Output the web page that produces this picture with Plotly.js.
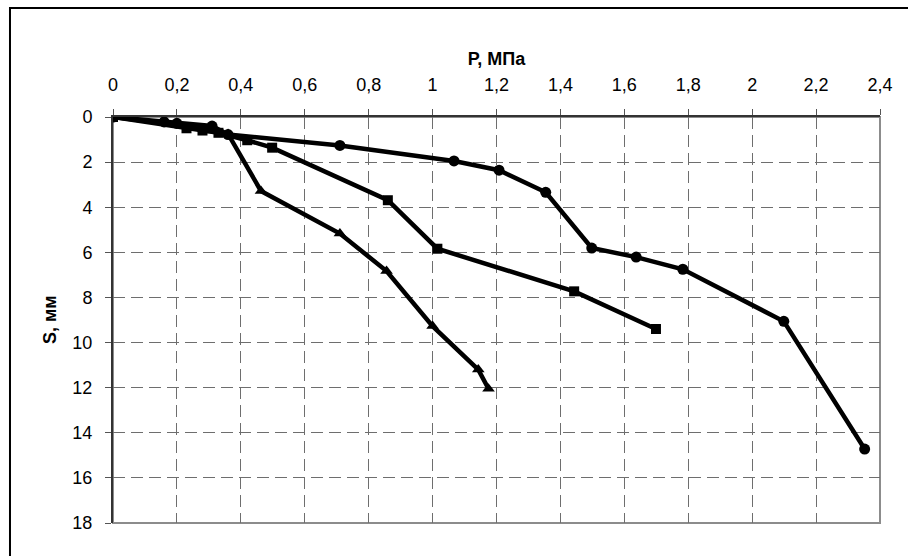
<!DOCTYPE html>
<html>
<head>
<meta charset="utf-8">
<script src="https://cdn.plot.ly/plotly-3.0.1.min.js"></script>
<style>html,body{margin:0;padding:0;background:#fff;}#chart{width:908px;height:556px;}</style>
</head>
<body>
<div id="chart"></div>
<script>
// Series 1 (circles)
const circleP = [0, 0.16, 0.20, 0.31, 0.36, 0.71, 1.067, 1.208, 1.354, 1.498, 1.637, 1.783, 2.099, 2.352];
const circleS = [0, 0.22, 0.28, 0.40, 0.78, 1.26, 1.95, 2.36, 3.34, 5.81, 6.21, 6.75, 9.06, 14.72];
// Series 2 (squares)
const squareP = [0, 0.23, 0.28, 0.33, 0.42, 0.498, 0.86, 1.015, 1.443, 1.699];
const squareS = [0, 0.50, 0.60, 0.70, 1.03, 1.36, 3.69, 5.84, 7.73, 9.40];
// Series 3 (triangles)
const triP = [0, 0.20, 0.30, 0.36, 0.463, 0.71, 0.856, 1.0, 1.143, 1.175];
const triS = [0, 0.35, 0.60, 0.75, 3.28, 5.17, 6.83, 9.27, 11.2, 12.05];

const xTitle = 'P, МПа';
const yTitle = 'S, мм';

const lineStyle = {color: '#000', width: 4.5};
const traces = [
  {x: circleP, y: circleS, mode: 'lines+markers', line: lineStyle,
   marker: {symbol: 'circle', size: 11, color: '#000'}},
  {x: squareP, y: squareS, mode: 'lines+markers', line: lineStyle,
   marker: {symbol: 'square', size: 10, color: '#000'}},
  {x: triP, y: triS, mode: 'lines+markers', line: lineStyle,
   marker: {symbol: 'triangle-up', size: 11, color: '#000'}}
];

const layout = {
  width: 908, height: 556,
  margin: {l: 113, r: 28, t: 117, b: 33},
  paper_bgcolor: '#fff', plot_bgcolor: '#fff',
  showlegend: false,
  separators: ', ',
  font: {family: 'Liberation Sans, Arial, sans-serif', color: '#000', size: 18},
  title: {text: '<b>' + xTitle + '</b>', x: 0.5, xref: 'paper', xanchor: 'center',
          y: 1.175, yref: 'paper', yanchor: 'middle',
          font: {size: 18, family: 'Liberation Sans, Arial, sans-serif', color: '#000'}},
  xaxis: {
    side: 'top', range: [0, 2.4], dtick: 0.2, tick0: 0,
    showgrid: true, gridcolor: '#6e6e6e', gridwidth: 1, griddash: '12px,6px',
    zeroline: false, showline: true, linecolor: '#333', linewidth: 2,
    ticks: 'outside', ticklen: 6, tickcolor: '#555', ticklabelstandoff: 11,
    tickfont: {size: 18}
  },
  yaxis: {
    range: [18, 0], dtick: 2, tick0: 0,
    showgrid: true, gridcolor: '#6e6e6e', gridwidth: 1, griddash: '12px,6px',
    zeroline: false, showline: true, linecolor: '#333', linewidth: 2,
    ticks: 'outside', ticklen: 6, tickcolor: '#555', ticklabelstandoff: 9,
    tickfont: {size: 18}
  },
  annotations: [
    {text: '<b>' + yTitle + '</b>', xref: 'paper', yref: 'paper', x: -0.0821, y: 0.5,
     xanchor: 'center', yanchor: 'middle', textangle: -90, showarrow: false,
     font: {size: 18, color: '#000'}}
  ],
  shapes: [
    {type: 'rect', xref: 'paper', yref: 'paper', x0: 0, x1: 1, y0: 0, y1: 1,
     line: {color: '#8c8c8c', width: 2}, layer: 'below'},
    {type: 'rect', xref: 'paper', yref: 'paper', x0: -0.1343, x1: 1.3, y0: -0.5, y1: 1.2685,
     line: {color: '#000', width: 2}, layer: 'below'}
  ]
};

Plotly.newPlot('chart', traces, layout, {displayModeBar: false, staticPlot: true});
</script>
</body>
</html>
